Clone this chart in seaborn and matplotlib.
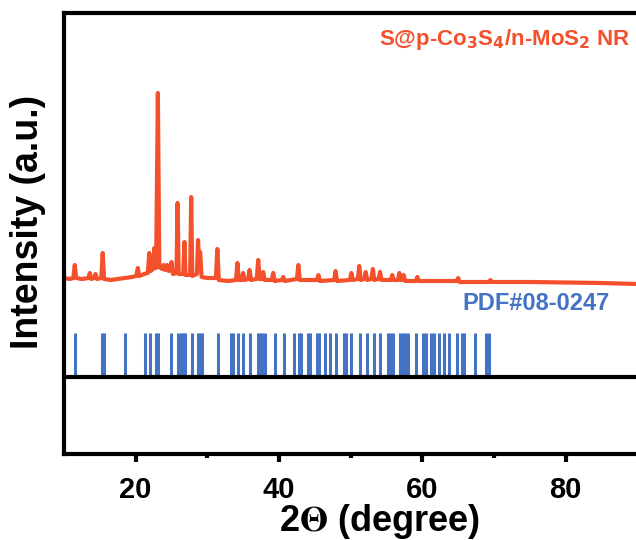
import matplotlib
matplotlib.use("Agg")
import matplotlib.pyplot as plt
import seaborn as sns
import pandas as pd

# Measured XRD pattern of the composite (2-theta in degrees, intensity in a.u. with offset)
two_theta = [
    10.0, 10.8, 11.3, 11.5, 11.7, 12.5, 13.4, 13.6, 13.8, 14.2, 14.4, 14.6,
    15.2, 15.4, 15.6, 16.5, 17.5, 18.5, 19.5, 20.1, 20.3, 20.5, 21.2, 21.7,
    21.9, 22.1, 22.45, 22.6, 22.85, 23.1, 23.3, 23.7, 23.9, 24.1, 24.25, 24.4,
    24.6, 24.85, 25.0, 25.2, 25.7, 25.85, 26.0, 26.65, 26.8, 26.95, 27.6, 27.75,
    27.9, 28.55, 28.7, 28.85, 29.0, 29.2, 30.0, 31.2, 31.4, 31.6, 33.0, 34.0,
    34.2, 34.4, 34.8, 35.0, 35.2, 35.7, 35.9, 36.1, 36.9, 37.1, 37.3, 37.6,
    37.8, 38.0, 39.0, 39.2, 39.4, 40.4, 40.6, 40.8, 42.5, 42.7, 42.9, 44.0,
    45.3, 45.5, 45.7, 47.7, 47.9, 48.1, 49.9, 50.1, 50.3, 51.0, 51.2, 51.4,
    51.9, 52.1, 52.3, 52.9, 53.1, 53.3, 53.9, 54.1, 54.3, 55.6, 55.8, 56.0,
    56.6, 56.8, 57.0, 57.2, 57.4, 57.6, 59.1, 59.3, 59.5, 62.0, 64.8, 65.0,
    65.2, 69.3, 69.5, 69.7, 75.0, 80.0, 85.0, 90.0,
]
intensity = [
    176, 175, 176, 189, 176, 175, 176, 181, 175, 176, 180, 175,
    176, 201, 175, 174, 175, 176, 177, 178, 186, 178, 180, 181,
    201, 183, 185, 206, 186, 361, 187, 185, 189, 184, 185, 189,
    183, 184, 192, 180, 181, 251, 180, 180, 212, 179, 179, 257,
    178, 180, 214, 195, 202, 177, 176, 176, 205, 174, 173, 174,
    191, 174, 174, 181, 174, 175, 184, 174, 175, 194, 175, 175,
    182, 174, 174, 181, 173, 174, 177, 173, 175, 189, 174, 174,
    174, 179, 173, 174, 183, 173, 174, 181, 174, 175, 188, 174,
    175, 182, 174, 175, 185, 174, 175, 182, 174, 174, 179, 174,
    174, 181, 174, 174, 179, 173, 173, 177, 173, 173, 173, 176,
    172, 172, 174, 172, 172, 171.5, 171, 170,
]

# Reference card PDF#08-0247 reflection positions
ref_positions = [
    11.49, 15.35, 15.57, 18.5, 21.25, 21.95, 22.78, 23.16, 25.0, 25.94,
    26.26, 26.59, 26.86, 27.8, 28.68, 28.95, 29.29, 31.5, 33.37, 33.6,
    34.3, 35.0, 35.92, 37.04, 37.3, 37.65, 38.0, 39.43, 40.76, 42.06,
    42.76, 43.13, 44.06, 44.38, 45.31, 45.64, 46.38, 47.17, 47.96, 49.03,
    49.4, 50.1, 51.35, 52.28, 53.21, 54.04, 55.21, 55.53, 55.9, 56.83,
    57.3, 57.62, 57.95, 59.16, 60.09, 60.45, 61.25, 61.57, 62.27, 62.96,
    63.76, 64.83, 65.53, 65.85, 67.38, 68.91, 69.24,
]
ref_base = 77
ref_top = 121

x_ticks = [20, 40, 60, 80]
x_minor = [30, 50, 70]

red = "#F4502C"
blue = "#4472C4"

sns.set_theme(style="white")
plt.rcParams["font.family"] = ["Liberation Sans", "DejaVu Sans"]

fig = plt.figure(figsize=(6.36, 5.40), dpi=100)
ax = fig.add_axes([64 / 636, 86 / 540, 573.3 / 636, 441 / 540])

df = pd.DataFrame({"two_theta": two_theta, "intensity": intensity})
sns.lineplot(data=df, x="two_theta", y="intensity", sort=False,
             estimator=None, color=red, linewidth=3.0, ax=ax)

ax.vlines(ref_positions, ref_base, ref_top, color=blue, linewidth=2.2)
ax.axhline(ref_base, color="black", linewidth=3.0)

ax.set_xlim(10, 90)
ax.set_ylim(0, 441)
ax.set_xticks(x_ticks)
ax.set_xticks(x_minor, minor=True)
ax.set_yticks([])
ax.tick_params(axis="x", which="major", direction="out", length=6, width=3,
               bottom=True, color="black", pad=10)
ax.tick_params(axis="x", which="minor", direction="out", length=3, width=3,
               bottom=True, color="black")
for lbl in ax.get_xticklabels():
    lbl.set_fontsize(21)
    lbl.set_fontweight("bold")
    lbl.set_color("black")

for side in ["left", "bottom", "top", "right"]:
    ax.spines[side].set_visible(True)
    ax.spines[side].set_color("black")
    ax.spines[side].set_linewidth(3.0)

ax.set_xlabel(r"2$\mathbf{\Theta}$ (degree)", fontsize=26, fontweight="bold",
              color="black", math_fontfamily="stix")
ax.xaxis.set_label_coords(0.55, -0.175)
ax.xaxis.label.set_va("baseline")
ax.set_ylabel("Intensity (a.u.)", fontsize=27, fontweight="bold",
              color="black")
ax.yaxis.set_label_coords(-0.031, 0.527)

ax.text(89.0, 414, r"S@p-Co$_\mathbf{3}$S$_\mathbf{4}$/n-MoS$_\mathbf{2}$ NR",
        color=red, fontsize=16, fontweight="bold", ha="right", va="center")
ax.text(86.2, 150, "PDF#08-0247", color=blue, fontsize=17,
        fontweight="bold", ha="right", va="center")

fig.savefig("out.png", dpi=100)
